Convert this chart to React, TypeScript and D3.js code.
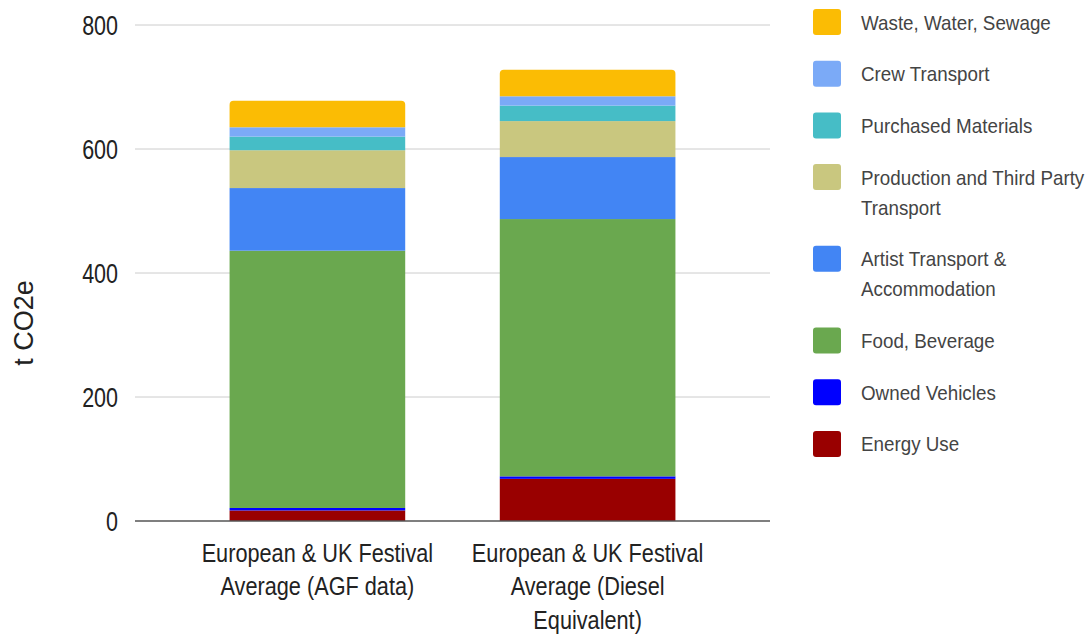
import { useEffect, useRef } from "react"
import * as d3 from "d3"

const categories = [
  ["European & UK Festival", "Average (AGF data)"],
  ["European & UK Festival", "Average (Diesel", "Equivalent)"],
]

// stacked bottom -> top
const seriesNames = [
  "Energy Use",
  "Owned Vehicles",
  "Food, Beverage",
  "Artist Transport & Accommodation",
  "Production and Third Party Transport",
  "Purchased Materials",
  "Crew Transport",
  "Waste, Water, Sewage",
]

const agfValues = [17, 4, 415, 101, 61, 22, 15, 43]
const dieselValues = [68, 4, 415, 100, 58, 25, 15, 43]

const seriesColors = ["#990000", "#0000ff", "#6aa84f", "#4285f4", "#c9c77f", "#46bdc6", "#7baaf7", "#fbbc04"]

// legend order top -> bottom with line breaks
const legendLabels = [
  ["Waste, Water, Sewage"],
  ["Crew Transport"],
  ["Purchased Materials"],
  ["Production and Third Party", "Transport"],
  ["Artist Transport &", "Accommodation"],
  ["Food, Beverage"],
  ["Owned Vehicles"],
  ["Energy Use"],
]

const yTicks = [0, 200, 400, 600, 800]

const SANS = "Liberation Sans, Arial, sans-serif"

export default function App() {
  const svgRef = useRef<SVGSVGElement>(null)

  useEffect(() => {
    const svg = d3.select(svgRef.current)
    svg.selectAll("*").remove()

    const left = 135
    const right = 770
    const top = 25
    const bottom = 521

    const x = d3
      .scaleBand<number>()
      .domain(categories.map((_, i) => i))
      .range([left, right])
      .paddingInner(0.35)
      .paddingOuter(0.35)

    const y = d3.scaleLinear().domain([0, 800]).range([bottom, top])

    // gridlines
    svg
      .append("g")
      .selectAll("line")
      .data(yTicks.filter((t) => t > 0))
      .join("line")
      .attr("x1", left)
      .attr("x2", right)
      .attr("y1", (d) => y(d))
      .attr("y2", (d) => y(d))
      .attr("stroke", "#cccccc")
      .attr("stroke-width", 1)

    // tick labels (text in the source is a bit stretched vertically)
    svg
      .append("g")
      .selectAll("text")
      .data(yTicks)
      .join("text")
      .attr("transform", (d) => `translate(118,${y(d)}) scale(1,1.25)`)
      .attr("dy", "0.36em")
      .attr("text-anchor", "end")
      .attr("font-family", SANS)
      .attr("font-size", 21.5)
      .attr("fill", "#222")
      .text((d) => d)

    // y title
    svg
      .append("text")
      .attr("transform", "translate(33,323) rotate(-90)")
      .attr("text-anchor", "middle")
      .attr("font-family", SANS)
      .attr("font-size", 27)
      .attr("fill", "#222")
      .text("t CO2e")

    // stacked bars
    const rows = [agfValues, dieselValues]
    const table = rows.map((vals, i) => {
      const o: Record<string, number> = { idx: i }
      seriesNames.forEach((n, j) => (o[n] = vals[j]))
      return o
    })
    const stack = d3.stack<Record<string, number>>().keys(seriesNames)(table)
    const barG = svg.append("g")
    stack.forEach((layer, li) => {
      layer.forEach((seg) => {
        const i = seg.data.idx
        const x0 = x(i) as number
        const w = x.bandwidth()
        const y0 = y(seg[0])
        const y1 = y(seg[1])
        if (li === stack.length - 1) {
          const r = 4
          barG
            .append("path")
            .attr(
              "d",
              `M${x0},${y0}V${y1 + r}Q${x0},${y1} ${x0 + r},${y1}H${x0 + w - r}Q${x0 + w},${y1} ${x0 + w},${y1 + r}V${y0}Z`
            )
            .attr("fill", seriesColors[li])
        } else {
          barG
            .append("rect")
            .attr("x", x0)
            .attr("y", y1)
            .attr("width", w)
            .attr("height", y0 - y1)
            .attr("fill", seriesColors[li])
        }
      })
    })

    // baseline
    svg
      .append("line")
      .attr("x1", left)
      .attr("x2", right)
      .attr("y1", y(0))
      .attr("y2", y(0))
      .attr("stroke", "#555")
      .attr("stroke-width", 1.5)

    // x labels
    const sx = 1.15
    categories.forEach((lines, i) => {
      const cx = (x(i) as number) + x.bandwidth() / 2
      const t = svg
        .append("text")
        .attr("transform", `translate(${cx},561.5) scale(1,${sx})`)
        .attr("text-anchor", "middle")
        .attr("font-family", SANS)
        .attr("font-size", 21.7)
        .attr("fill", "#222")
      lines.forEach((l, k) => {
        t.append("tspan")
          .attr("x", 0)
          .attr("y", (k * 33.8) / sx)
          .text(l)
      })
    })

    // legend
    const legend = svg.append("g")
    const ls = 1.11
    let ly = 22
    legendLabels.forEach((lines, i) => {
      const colorIdx = seriesNames.length - 1 - i
      legend
        .append("rect")
        .attr("x", 813)
        .attr("y", ly - 13)
        .attr("width", 28)
        .attr("height", 26)
        .attr("rx", 3)
        .attr("fill", seriesColors[colorIdx])
      const t = legend
        .append("text")
        .attr("transform", `translate(861,${ly}) scale(1,${ls})`)
        .attr("font-family", SANS)
        .attr("font-size", 18.8)
        .attr("fill", "#444")
      lines.forEach((l, k) => {
        t.append("tspan")
          .attr("x", 0)
          .attr("y", (k * 30) / ls)
          .attr("dy", "0.36em")
          .text(l)
      })
      ly += 51.7 + (lines.length - 1) * 30
    })
  }, [])

  return (
    <svg
      ref={svgRef}
      width={1088}
      height={634}
      style={{ display: "block", position: "absolute", left: 0, top: 0, background: "#fff" }}
    />
  )
}
